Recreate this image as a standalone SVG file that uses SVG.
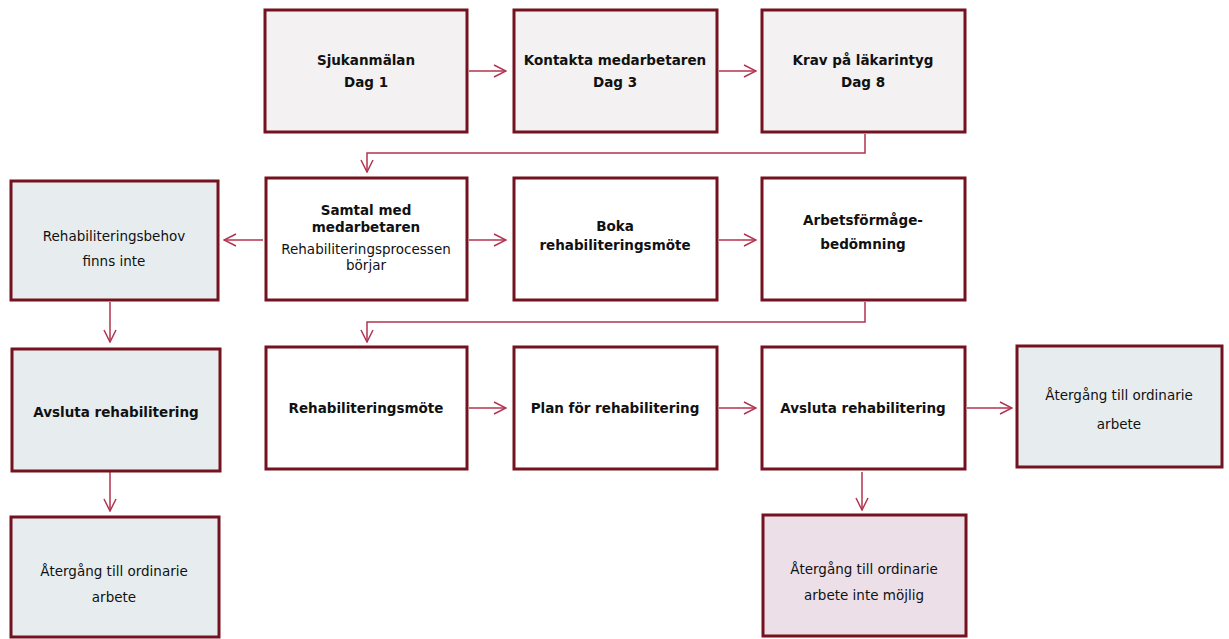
<svg xmlns="http://www.w3.org/2000/svg" width="1229" height="639" viewBox="0 0 1229 639">
<defs>
<style>
.box{stroke:#741220;stroke-width:3}
.w{fill:#ffffff}
.g{fill:#f3f1f1}
.b{fill:#e7edef}
.p{fill:#ecdfe8}
.t{font-family:"DejaVu Sans",Verdana,sans-serif;font-size:13.5px;fill:#111;text-anchor:middle}
.bd{font-weight:bold}
.c{fill:none;stroke:#b2334f;stroke-width:1.5}
</style>
<marker id="a" viewBox="0 0 14 14" refX="13" refY="7" markerWidth="14" markerHeight="14" markerUnits="userSpaceOnUse" orient="auto">
<path d="M1,1 L13,7 L1,13" fill="none" stroke="#b2334f" stroke-width="1.5"/>
</marker>
</defs>
<rect width="1229" height="639" fill="#ffffff"/>
<g id="connectors">
<line class="c" x1="469" y1="71" x2="506" y2="71" marker-end="url(#a)"/>
<line class="c" x1="719" y1="71" x2="756" y2="71" marker-end="url(#a)"/>
<polyline class="c" points="865,134 865,153 367,153 367,172" marker-end="url(#a)"/>
<line class="c" x1="263" y1="240" x2="224" y2="240" marker-end="url(#a)"/>
<line class="c" x1="469" y1="240" x2="506" y2="240" marker-end="url(#a)"/>
<line class="c" x1="719" y1="240" x2="756" y2="240" marker-end="url(#a)"/>
<polyline class="c" points="865,302 865,322 367,322 367,342" marker-end="url(#a)"/>
<line class="c" x1="110" y1="302" x2="110" y2="342" marker-end="url(#a)"/>
<line class="c" x1="469" y1="408" x2="506" y2="408" marker-end="url(#a)"/>
<line class="c" x1="719" y1="408" x2="756" y2="408" marker-end="url(#a)"/>
<line class="c" x1="967" y1="408" x2="1012" y2="408" marker-end="url(#a)"/>
<line class="c" x1="110" y1="472" x2="110" y2="511" marker-end="url(#a)"/>
<line class="c" x1="862" y1="472" x2="862" y2="510" marker-end="url(#a)"/>
</g>
<g id="n1"><rect class="box g" x="265" y="10" width="202" height="122"/><text class="t bd" x="366" y="65">Sjukanmälan</text><text class="t bd" x="366" y="87">Dag 1</text></g>
<g id="n2"><rect class="box g" x="514" y="10" width="203" height="122"/><text class="t bd" x="615" y="65">Kontakta medarbetaren</text><text class="t bd" x="615" y="87">Dag 3</text></g>
<g id="n3"><rect class="box g" x="762" y="10" width="203" height="122"/><text class="t bd" x="863" y="65">Krav på läkarintyg</text><text class="t bd" x="863" y="87">Dag 8</text></g>
<g id="n4"><rect class="box b" x="11" y="181" width="207" height="119"/><text class="t" x="114" y="241">Rehabiliteringsbehov</text><text class="t" x="114" y="266">finns inte</text></g>
<g id="n5"><rect class="box w" x="266" y="178" width="201" height="122"/><text class="t bd" x="366" y="215">Samtal med</text><text class="t bd" x="366" y="232">medarbetaren</text><text class="t" x="366" y="254">Rehabiliteringsprocessen</text><text class="t" x="366" y="270">börjar</text></g>
<g id="n6"><rect class="box w" x="514" y="178" width="203" height="122"/><text class="t bd" x="615" y="231">Boka</text><text class="t bd" x="615" y="250">rehabiliteringsmöte</text></g>
<g id="n7"><rect class="box w" x="762" y="178" width="203" height="122"/><text class="t bd" x="863" y="225">Arbetsförmåge-</text><text class="t bd" x="863" y="249">bedömning</text></g>
<g id="n8"><rect class="box b" x="12" y="349" width="208" height="122"/><text class="t bd" x="116" y="417">Avsluta rehabilitering</text></g>
<g id="n9"><rect class="box w" x="266" y="347" width="201" height="122"/><text class="t bd" x="366" y="413">Rehabiliteringsmöte</text></g>
<g id="n10"><rect class="box w" x="514" y="347" width="203" height="122"/><text class="t bd" x="615" y="413">Plan för rehabilitering</text></g>
<g id="n11"><rect class="box w" x="762" y="347" width="203" height="122"/><text class="t bd" x="863" y="413">Avsluta rehabilitering</text></g>
<g id="n12"><rect class="box b" x="1017" y="346" width="205" height="121"/><text class="t" x="1119" y="400">Återgång till ordinarie</text><text class="t" x="1119" y="429">arbete</text></g>
<g id="n13"><rect class="box b" x="11" y="517" width="208" height="120"/><text class="t" x="114" y="576">Återgång till ordinarie</text><text class="t" x="114" y="602">arbete</text></g>
<g id="n14"><rect class="box p" x="763" y="515" width="203" height="121"/><text class="t" x="864" y="574">Återgång till ordinarie</text><text class="t" x="864" y="600">arbete inte möjlig</text></g>
</svg>
